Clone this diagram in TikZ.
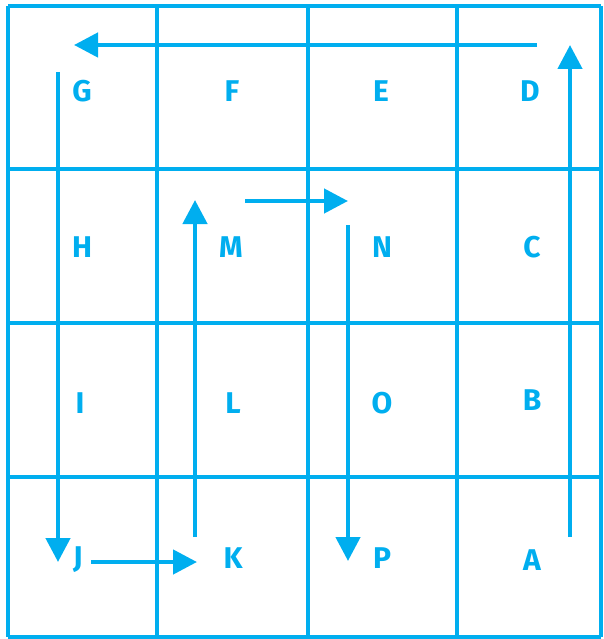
\documentclass[tikz,border=0pt]{standalone}
\usepackage{fontspec}
\setsansfont{Fira Sans}
\usepackage{tikz}
\usetikzlibrary{arrows.meta}
\definecolor{gridblue}{HTML}{00AEEF}

\begin{document}
\begin{tikzpicture}[
  x=1pt, y=-1pt,
  %% grid lines of the board
  gridline/.style={gridblue,line width=4.5pt},
  %% letters in the cells
  cellnode/.style={gridblue,font=\fontsize{30}{30}\selectfont\sffamily\bfseries,
                   inner sep=0pt,anchor=center},
  %% path arrows
  patharrow/.style={gridblue,line width=4.5pt,
                    -{Triangle[length=24pt,width=24pt]}}
]
\useasboundingbox (0,0) rectangle (604,639);

%% ---- GRID ----
\foreach \gx in {8,157,308,457,601}
  \draw[gridline] (\gx,6) -- (\gx,637);
\foreach \gy in {6,169,323,477,637}
  \draw[gridline] (8,\gy) -- (601,\gy);

%% ---- LETTERS ----
\node[cellnode] (G) at (82, 91) {G};
\node[cellnode] (F) at (232, 91) {F};
\node[cellnode] (E) at (381, 91) {E};
\node[cellnode] (D) at (530, 91) {D};
\node[cellnode] (H) at (82,247) {H};
\node[cellnode] (M) at (231,247) {M};
\node[cellnode] (N) at (382,247) {N};
\node[cellnode] (C) at (532,247) {C};
\node[cellnode] (I) at (80,403) {I};
\node[cellnode] (L) at (233,403) {L};
\node[cellnode] (O) at (382,403) {O};
\node[cellnode] (B) at (532,400) {B};
\node[cellnode] (J) at (78,560) {J};
\node[cellnode] (K) at (233,558) {K};
\node[cellnode] (P) at (382,558) {P};
\node[cellnode] (A) at (532,560) {A};

%% ---- ARROW END POINTS ----
\coordinate (a1) at (570,537);
\coordinate (a2) at (570, 45);
\coordinate (d1) at (537, 45);
\coordinate (d2) at (74, 45);
\coordinate (g1) at (58, 72);
\coordinate (g2) at (58,562);
\coordinate (j1) at (91,562);
\coordinate (j2) at (197,562);
\coordinate (k1) at (195,537);
\coordinate (k2) at (195,200);
\coordinate (m1) at (245,201);
\coordinate (m2) at (348,201);
\coordinate (n1) at (348,225);
\coordinate (n2) at (348,561);

%% ---- PATH ----
\draw[patharrow] (a1) -- (a2);
\draw[patharrow] (d1) -- (d2);
\draw[patharrow] (g1) -- (g2);
\draw[patharrow] (j1) -- (j2);
\draw[patharrow] (k1) -- (k2);
\draw[patharrow] (m1) -- (m2);
\draw[patharrow] (n1) -- (n2);

\end{tikzpicture}
\end{document}
